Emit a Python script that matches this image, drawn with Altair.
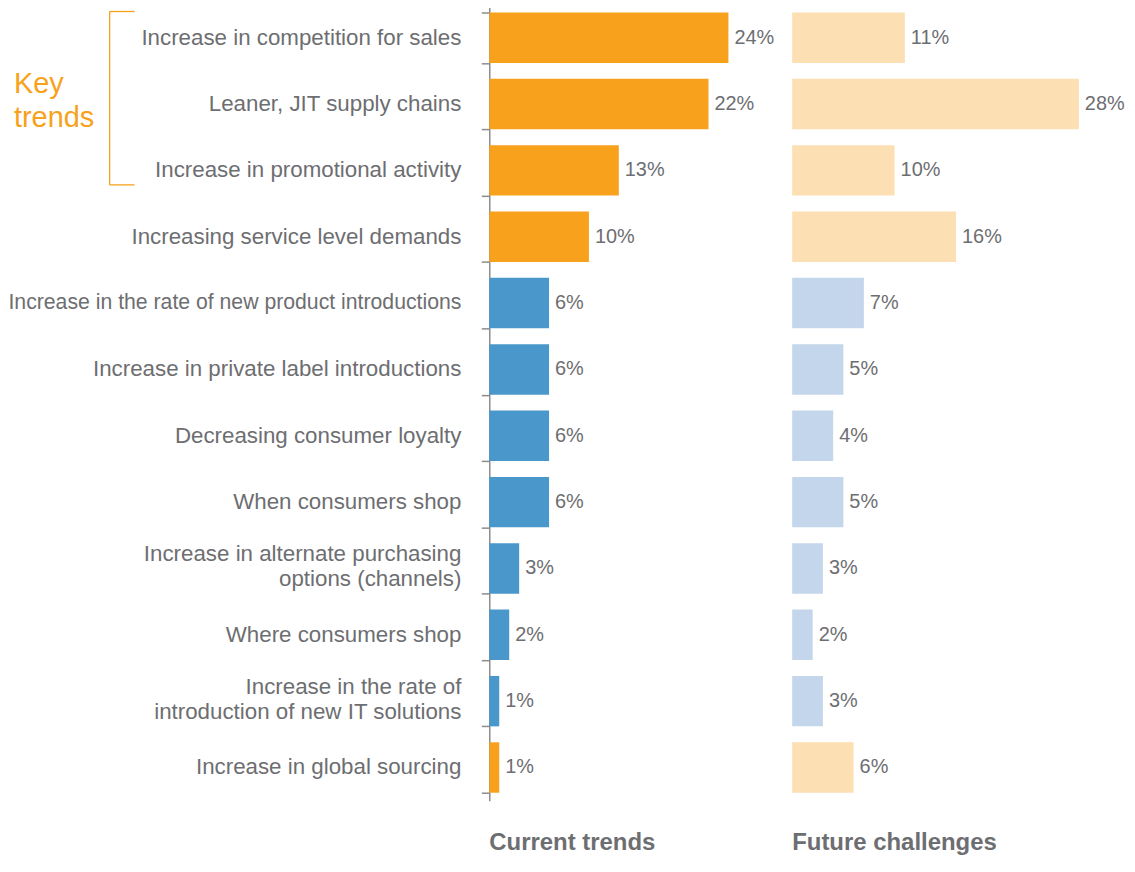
import altair as alt
import pandas as pd

categories = [
    "Increase in competition for sales",
    "Leaner, JIT supply chains",
    "Increase in promotional activity",
    "Increasing service level demands",
    "Increase in the rate of new product introductions",
    "Increase in private label introductions",
    "Decreasing consumer loyalty",
    "When consumers shop",
    "Increase in alternate purchasing\u00a0\noptions (channels)",
    "Where consumers shop",
    "Increase in the rate of\nintroduction of new IT solutions",
    "Increase in global sourcing",
]
current_trends = [24, 22, 13, 10, 6, 6, 6, 6, 3, 2, 1, 1]
future_challenges = [11, 28, 10, 16, 7, 5, 4, 5, 3, 2, 3, 6]
group = ["key", "key", "key", "key", "other", "other", "other", "other",
         "other", "other", "other", "key"]

df = pd.DataFrame({
    "cat": categories,
    "current": current_trends,
    "future": future_challenges,
    "group": group,
})

FONT = "Liberation Sans"
GRAY = "#6D6E71"
AXIS_GRAY = "#8C8C8C"
ORANGE = "#F7A11C"

H = 799
y_scale = alt.Scale(paddingInner=0.24, paddingOuter=0.12)

y_left = alt.Y(
    "cat:N", sort=categories, scale=y_scale, title=None,
    axis=alt.Axis(
        labels=False,
        tickSize=8, tickColor=AXIS_GRAY, tickWidth=1.5, tickBand="extent",
        domainColor=AXIS_GRAY, domainWidth=1.5, grid=False,
    ),
)

left_base = alt.Chart(df).transform_calculate(lbl="datum.current + '%'")
left_bars = left_base.mark_bar().encode(
    y=y_left,
    x=alt.X("current:Q", scale=alt.Scale(domain=[0, 29], nice=False), axis=None),
    color=alt.Color("group:N", scale=alt.Scale(domain=["key", "other"],
                                               range=[ORANGE, "#4A97CB"]), legend=None),
)
left_text = left_base.mark_text(align="left", baseline="middle", dx=6,
                                 font=FONT, fontSize=20, color=GRAY).encode(
    y=alt.Y("cat:N", sort=categories),
    x=alt.X("current:Q", axis=None),
    text="lbl:N",
)

# category labels drawn as text marks (single-line and two-line)
labels_single = alt.Chart(df).transform_filter(
    "indexof(datum.cat, '\\n') < 0"
).mark_text(align="right", baseline="middle", dx=-28, font=FONT, color=GRAY).encode(
    x=alt.value(0),
    y=alt.Y("cat:N", sort=categories),
    text="cat:N",
    size=alt.condition(
        "datum.cat == 'Increase in the rate of new product introductions'",
        alt.value(21.3), alt.value(22.4)),
)
labels_multi = alt.Chart(df).transform_filter(
    "indexof(datum.cat, '\\n') >= 0"
).transform_calculate(
    lines="split(datum.cat, '\\n')"
).mark_text(align="right", baseline="middle", dx=-28, dy=-14, lineHeight=25,
            font=FONT, fontSize=22.4, color=GRAY).encode(
    x=alt.value(0),
    y=alt.Y("cat:N", sort=categories),
    text="lines:N",
)

one = pd.DataFrame({"a": [0]})
bracket_v = alt.Chart(one).mark_rule(color=ORANGE, strokeWidth=1.3).encode(
    x=alt.value(-381), y=alt.value(7), y2=alt.value(181))
bracket_t = alt.Chart(one).mark_rule(color=ORANGE, strokeWidth=1.3).encode(
    x=alt.value(-381), x2=alt.value(-356), y=alt.value(7))
bracket_b = alt.Chart(one).mark_rule(color=ORANGE, strokeWidth=1.3).encode(
    x=alt.value(-381), x2=alt.value(-356), y=alt.value(181))
key_text = alt.Chart(one).mark_text(
    text=["Key", "trends"], align="left", baseline="alphabetic",
    font=FONT, fontSize=29, lineHeight=34, color=ORANGE,
).encode(x=alt.value(-477), y=alt.value(89))

left = alt.layer(left_bars, left_text, labels_single, labels_multi,
                 bracket_v, bracket_t, bracket_b, key_text).properties(
    width=290, height=H,
    title=alt.TitleParams("Current trends", orient="bottom", anchor="start", frame="group",
                          offset=30, font=FONT, fontSize=24, fontWeight="bold", color=GRAY),
)

right_base = alt.Chart(df).transform_calculate(lbl="datum.future + '%'")
right_bars = right_base.mark_bar().encode(
    y=alt.Y("cat:N", sort=categories, scale=y_scale, axis=None),
    x=alt.X("future:Q", scale=alt.Scale(domain=[0, 32.7], nice=False), axis=None),
    color=alt.Color("group:N", scale=alt.Scale(domain=["key", "other"],
                                               range=["#FDDFB4", "#C4D6EB"]), legend=None),
)
right_text = right_base.mark_text(align="left", baseline="middle", dx=6,
                                  font=FONT, fontSize=20, color=GRAY).encode(
    y=alt.Y("cat:N", sort=categories, axis=None),
    x=alt.X("future:Q", axis=None),
    text="lbl:N",
)
right = alt.layer(right_bars, right_text).properties(
    width=336, height=H,
    title=alt.TitleParams("Future challenges", orient="bottom", anchor="start", frame="group",
                          offset=30, font=FONT, fontSize=24, fontWeight="bold", color=GRAY),
)

chart = alt.hconcat(left, right, spacing=14).resolve_scale(
    color="independent", x="independent", y="independent"
).configure_view(stroke=None).properties(
    padding={"top": -5, "left": 0, "right": 0, "bottom": 0})

chart.save("out.html", embed_options={"renderer": "svg", "actions": False})
